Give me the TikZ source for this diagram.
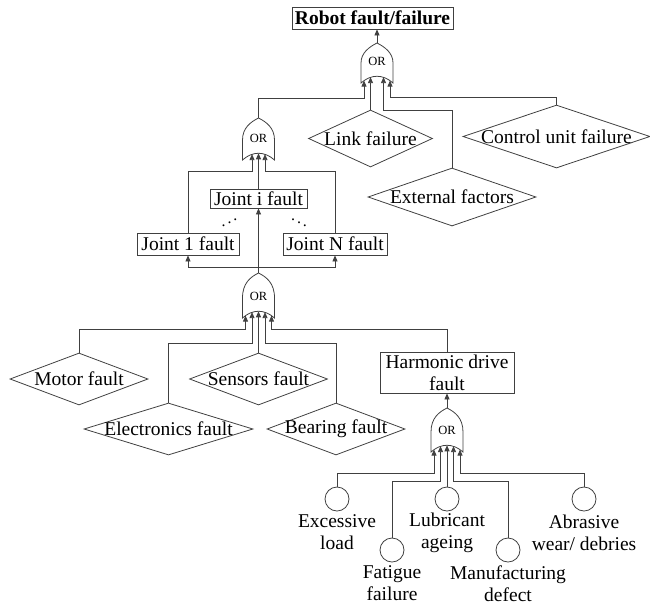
\documentclass[tikz,border=0pt]{standalone}
\usepackage{fontspec}
\setmainfont{Liberation Serif}
\usepackage{graphicx}
\usetikzlibrary{shapes.geometric,arrows.meta,calc}
\tikzset{
  line/.style={draw=black!75, line width=0.8pt},
  arr/.style={line, -{Triangle[width=5pt,length=6pt]}},
  txt/.style={font=\fontsize{19.5}{22}\selectfont, inner sep=0pt, align=center, text=black},
  box/.style={line, rectangle, inner sep=0pt, align=center, font=\fontsize{19.5}{22}\selectfont, text=black},
  dia/.style={line, diamond, inner sep=0pt},
  ev/.style={line, circle, minimum size=24pt, inner sep=0pt},
  pics/orgate/.style={code={
    \draw[line] (-16,0) -- (-16,-20) .. controls (-16,{-#1+10}) and (-8,{-#1+4}) .. (0,-#1)
      .. controls (8,{-#1+4}) and (16,{-#1+10}) .. (16,-20) -- (16,0)
      .. controls (6,-9) and (-6,-9) .. cycle;
    \node[font=\fontsize{12.5}{13}\selectfont, inner sep=0pt] (-lab) at (0,-22) {OR};
    \coordinate (-top) at (0,-#1);
    \coordinate (-l2) at (-13,-2.4);
    \coordinate (-l1) at (-6.5,-5.9);
    \coordinate (-c) at (0,-6.75);
    \coordinate (-r1) at (6.5,-5.9);
    \coordinate (-r2) at (13,-2.4);
  }}
}
\begin{document}
\begin{tikzpicture}[x=1pt,y=-1pt]
\useasboundingbox (0,0) rectangle (650,606);

% top event
\node[box, font=\bfseries\fontsize{19.5}{22}\selectfont, minimum width=161pt, minimum height=22pt] (robot) at (372.5,18) {Robot fault/failure};

% gates
\pic (g1) at (377,83) {orgate=40};
\pic (g2) at (258.5,160) {orgate=42};
\pic (g3) at (258.5,318) {orgate=45};
\pic (g4) at (447,452) {orgate=44};

% level 1 events
\node[dia, minimum width=124pt, minimum height=57pt] (link) at (370.5,138.5) {};
\node[txt] at (link) {Link failure};
\node[dia, minimum width=187pt, minimum height=63pt] (ctrl) at (556.5,136.5) {};
\node[txt] at (ctrl) {Control unit failure};
\node[dia, minimum width=168pt, minimum height=58pt] (ext) at (452,197) {};
\node[txt] at (ext) {External factors};

% joints
\node[box, minimum width=97pt, minimum height=19pt] (ji) at (258.5,198.5) {Joint i fault};
\node[box, minimum width=102pt, minimum height=22pt] (j1) at (188,244) {Joint 1 fault};
\node[box, minimum width=104pt, minimum height=22pt] (jN) at (335,244) {Joint N fault};
\node[font=\fontsize{16}{16}\selectfont, inner sep=0pt] (dl) at (229.5,220) {\scalebox{-1}[1]{$\ddots$}};
\node[font=\fontsize{16}{16}\selectfont, inner sep=0pt] (dr) at (299,220) {$\ddots$};

% joint-level events
\node[dia, minimum width=138pt, minimum height=52pt] (motor) at (79,379) {};
\node[txt] at (motor) {Motor fault};
\node[dia, minimum width=138pt, minimum height=52pt] (sens) at (258.5,379) {};
\node[txt] at (sens) {Sensors fault};
\node[dia, minimum width=169pt, minimum height=52pt] (elec) at (168.5,429) {};
\node[txt] at (elec) {Electronics fault};
\node[dia, minimum width=138pt, minimum height=52pt] (bear) at (336,429) {};
\node[txt] at (bear) {Bearing fault};
\node[box, minimum width=134pt, minimum height=41pt] (harm) at (447,372.5) {Harmonic drive\\fault};

% basic events
\node[ev] (exc) at (337,499) {};
\node[ev] (fat) at (392,550) {};
\node[ev] (lub) at (447,499) {};
\node[ev] (man) at (508,550) {};
\node[ev] (abr) at (584,499) {};
\node[txt] (excl) at (337,532.5) {Excessive\\load};
\node[txt] (lubl) at (447,532.5) {Lubricant\\ageing};
\node[txt] (abrl) at (584,532.5) {Abrasive\\wear/ debries};
\node[txt] (fatl) at (392,583.5) {Fatigue\\failure};
\node[txt] (manl) at (508,583.5) {Manufacturing\\defect};

% connectors: gate 1
\draw[arr] (g1-top) -- (g1-top |- robot.south);
\draw[arr] (g2-top) |- ($(g1-l2)+(0,17.4)$) -- (g1-l2);
\draw[arr] (link.north) -- (g1-l1);
\draw[arr] (ext.north) |- ($(g1-r1)+(0,33)$) -- (g1-r1);
\draw[arr] (ctrl.north) |- ($(g1-r2)+(0,16.4)$) -- (g1-r2);

% gate 2
\draw[arr] (j1.north) |- ($(g2-l1)+(0,16.9)$) -- (g2-l1);
\draw[arr] (ji.north) -- (g2-c);
\draw[arr] (jN.north) |- ($(g2-r1)+(0,16.9)$) -- (g2-r1);

% gate 3 output
\coordinate (j3) at ($(g3-top)+(0,-6)$);
\draw[arr] (g3-top) -- (ji.south);
\draw[arr] (j3) -| (j1.south);
\draw[arr] (j3) -| (jN.south);

% gate 3 inputs
\draw[arr] (motor.north) |- ($(g3-l2)+(0,13.4)$) -- (g3-l2);
\draw[arr] (elec.north) |- ($(g3-l1)+(0,30.9)$) -- (g3-l1);
\draw[arr] (sens.north) -- (g3-c);
\draw[arr] (bear.north) |- ($(g3-r1)+(0,30.9)$) -- (g3-r1);
\draw[arr] (harm.north) |- ($(g3-r2)+(0,13.4)$) -- (g3-r2);

% gate 4
\draw[arr] (g4-top) -- (harm.south);
\draw[arr] (exc.north) |- ($(g4-l2)+(0,23.4)$) -- (g4-l2);
\draw[arr] (fat.north) |- ($(g4-l1)+(0,34.9)$) -- (g4-l1);
\draw[arr] (lub.north) -- (g4-c);
\draw[arr] (man.north) |- ($(g4-r1)+(0,34.9)$) -- (g4-r1);
\draw[arr] (abr.north) |- ($(g4-r2)+(0,23.4)$) -- (g4-r2);
\end{tikzpicture}
\end{document}
